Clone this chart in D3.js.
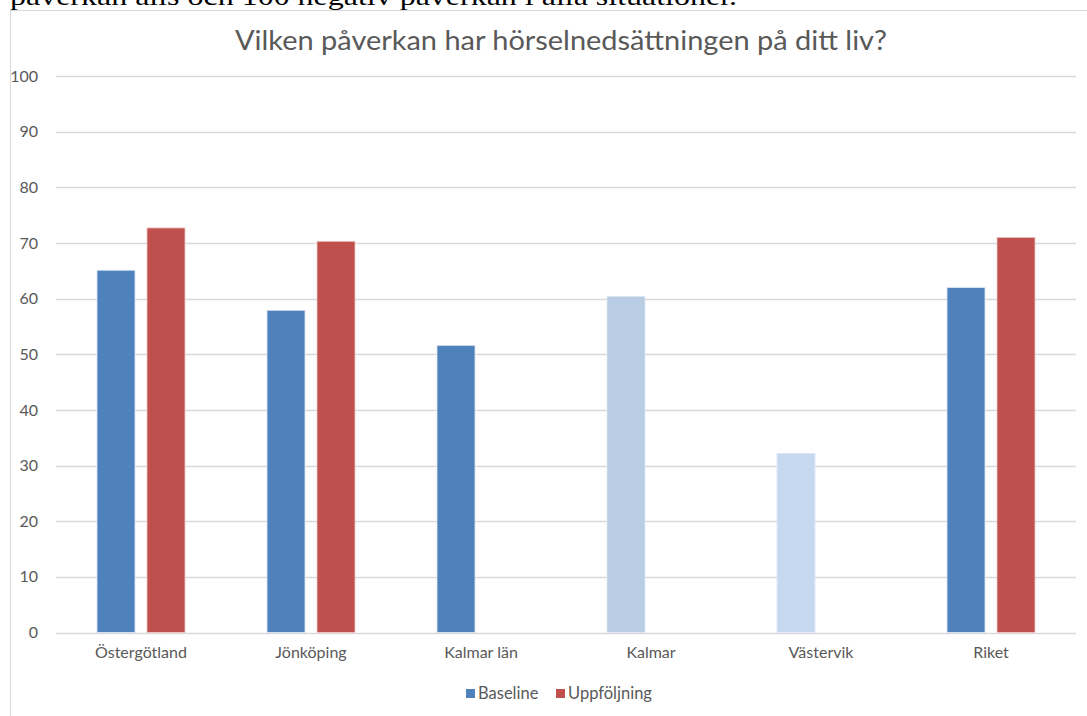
<!DOCTYPE html>
<html>
<head>
<meta charset="utf-8">
<script src="https://cdn.jsdelivr.net/npm/d3@7"></script>
<style>
  body { margin: 0; background: #fff; }
  svg { display: block; }
</style>
</head>
<body>
<svg id="chart"></svg>
<script>
// data
let categories = ["Östergötland", "Jönköping", "Kalmar län", "Kalmar", "Västervik", "Riket"]
let baseline = [65.1, 57.9, 51.6, 60.4, 32.2, 62.0]
let uppfoljning = [72.7, 70.3, null, null, null, 71.0]
let baselineColors = ["#4f81bd", "#4f81bd", "#4f81bd", "#b9cde5", "#c6d9f1", "#4f81bd"]
let yTicks = [0, 10, 20, 30, 40, 50, 60, 70, 80, 90, 100]
let seriesNames = ["Baseline", "Uppföljning"]

let width = 1087
let height = 716
let font = "Lato, 'Open Sans', sans-serif"
let textColor = "#595959"

let svg = d3.select("#chart")
    .attr("width", width)
    .attr("height", height)

// cut-off line of document text above the chart
svg.append("text")
    .attr("x", 10)
    .attr("y", 5)
    .attr("textLength", 727)
    .attr("lengthAdjust", "spacingAndGlyphs")
    .style("font-family", "'Liberation Serif', serif")
    .style("font-size", "26px")
    .attr("fill", "#000")
    .text("påverkan alls och 100 negativ påverkan i alla situationer.")

// chart frame
svg.append("rect")
    .attr("x", 10.5)
    .attr("y", 10.5)
    .attr("width", width + 10)
    .attr("height", height + 10)
    .attr("fill", "#fff")
    .attr("stroke", "#d9d9d9")

let xScale = d3.scaleBand()
    .domain(categories)
    .range([56, 1076])

let yScale = d3.scaleLinear()
    .domain([0, 100])
    .range([632.5, 76])

// gridlines
svg.append("g")
    .selectAll("line")
    .data(yTicks)
    .enter()
    .append("line")
    .attr("x1", 56)
    .attr("x2", 1076)
    .attr("y1", d => Math.round(yScale(d)) + 0.5)
    .attr("y2", d => Math.round(yScale(d)) + 0.5)
    .attr("stroke", "#d9d9d9")
    .attr("stroke-width", 1.3)

// y tick labels
let yAxis = d3.axisLeft(yScale).tickValues(yTicks).tickSize(0).tickPadding(0)
let yG = svg.append("g")
    .attr("transform", "translate(38,0)")
    .call(yAxis)
yG.select(".domain").remove()
yG.selectAll("text")
    .style("font-family", font)
    .style("font-size", "16px")
    .attr("fill", textColor)

// x tick labels
let xAxis = d3.axisBottom(xScale).tickSize(0).tickPadding(0)
let xG = svg.append("g")
    .attr("transform", "translate(0,647)")
    .call(xAxis)
xG.select(".domain").remove()
xG.selectAll("text")
    .style("font-family", font)
    .style("font-size", "16px")
    .attr("fill", textColor)

let barW = 38
let inner = 6

// baseline bars
svg.append("g")
    .selectAll("rect")
    .data(categories)
    .enter()
    .append("rect")
    .attr("x", d => xScale(d) + xScale.bandwidth() / 2 - inner - barW)
    .attr("y", (d, i) => yScale(baseline[i]))
    .attr("width", barW)
    .attr("height", (d, i) => yScale(0) - yScale(baseline[i]))
    .attr("fill", (d, i) => baselineColors[i])
    .attr("stroke", "#dfe8f4")
    .attr("stroke-width", 0.8)

// uppföljning bars
svg.append("g")
    .selectAll("rect")
    .data(categories.filter((d, i) => uppfoljning[i] != null))
    .enter()
    .append("rect")
    .attr("x", d => xScale(d) + xScale.bandwidth() / 2 + inner)
    .attr("y", d => yScale(uppfoljning[categories.indexOf(d)]))
    .attr("width", barW)
    .attr("height", d => yScale(0) - yScale(uppfoljning[categories.indexOf(d)]))
    .attr("fill", "#c0504d")
    .attr("stroke", "#efc9c8")
    .attr("stroke-width", 0.8)

// title
svg.append("text")
    .attr("x", 561)
    .attr("y", 50)
    .attr("text-anchor", "middle")
    .attr("textLength", 652)
    .attr("lengthAdjust", "spacingAndGlyphs")
    .style("font-family", font)
    .style("font-size", "26px")
    .attr("fill", textColor)
    .text("Vilken påverkan har hörselnedsättningen på ditt liv?")

// legend
let legendColors = ["#4f81bd", "#c0504d"]
let legendX = [466, 556]
let legend = svg.append("g")
    .selectAll("g")
    .data(seriesNames)
    .enter()
    .append("g")
    .attr("transform", (d, i) => "translate(" + legendX[i] + ",689)")
legend.append("rect")
    .attr("width", 9)
    .attr("height", 9)
    .attr("fill", (d, i) => legendColors[i])
legend.append("text")
    .attr("x", 12)
    .attr("y", 10)
    .style("font-family", font)
    .style("font-size", "16.5px")
    .attr("fill", textColor)
    .text(d => d)
</script>
</body>
</html>
